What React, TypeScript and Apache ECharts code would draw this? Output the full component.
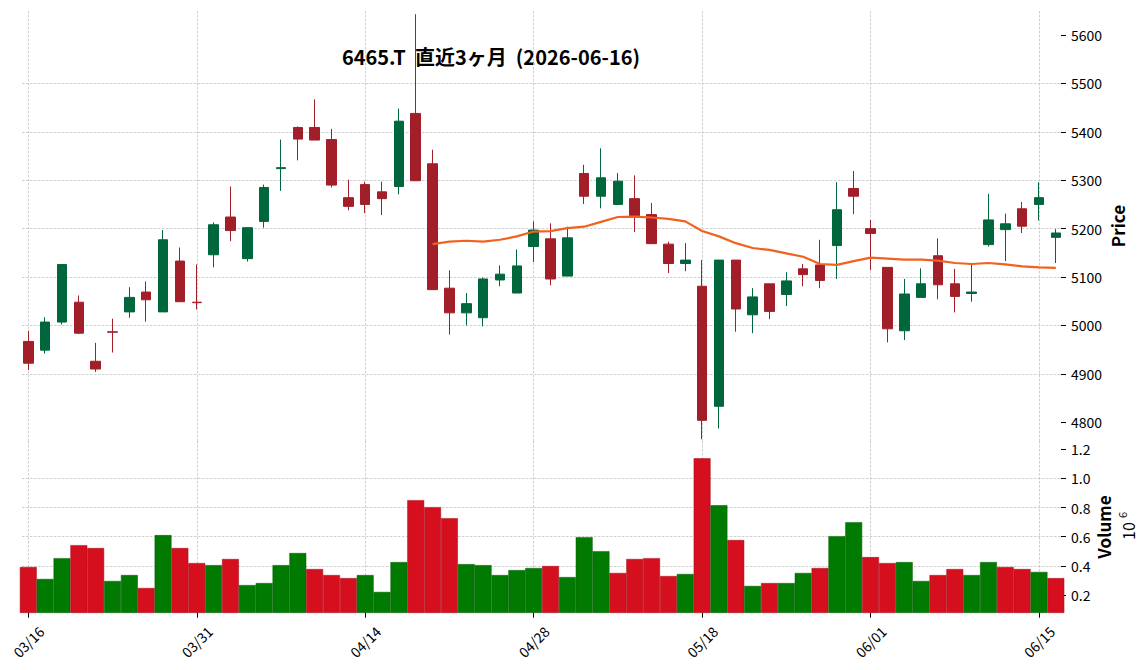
import React, { useEffect, useRef } from 'react';
import * as echarts from 'echarts';

const dates = [
  '03/16', '03/17', '03/18', '03/19', '03/23', '03/24', '03/25', '03/26', '03/27', '03/30', '03/31',
  '04/01', '04/02', '04/03', '04/06', '04/07', '04/08', '04/09', '04/10', '04/13', '04/14',
  '04/15', '04/16', '04/17', '04/20', '04/21', '04/22', '04/23', '04/24', '04/27', '04/28',
  '04/30', '05/01', '05/07', '05/08', '05/11', '05/12', '05/13', '05/14', '05/15', '05/18',
  '05/19', '05/20', '05/21', '05/22', '05/25', '05/26', '05/27', '05/28', '05/29', '06/01',
  '06/02', '06/03', '06/04', '06/05', '06/08', '06/09', '06/10', '06/11', '06/12', '06/15',
  '06/16',
];

const opens = [
  4967, 4949, 5007, 5048, 4926, 4987, 5028, 5069, 5028, 5133, 5048,
  5146, 5224, 5138, 5215, 5324, 5409, 5409, 5384, 5264, 5291,
  5276, 5287, 5438, 5334, 5077, 5026, 5016, 5094, 5067, 5163,
  5179, 5102, 5314, 5267, 5250, 5262, 5229, 5168, 5128, 5081,
  4833, 5135, 5022, 5086, 5064, 5117, 5125, 5165, 5283, 5200,
  5120, 4989, 5058, 5144, 5086, 5066, 5167, 5198, 5241, 5250,
  5182,
];
const closes = [
  4922, 5007, 5126, 4984, 4910, 4986, 5058, 5053, 5177, 5049, 5047,
  5208, 5196, 5202, 5285, 5326, 5385, 5383, 5290, 5246, 5250,
  5262, 5422, 5299, 5074, 5026, 5045, 5096, 5106, 5123, 5197,
  5096, 5181, 5267, 5305, 5298, 5227, 5169, 5128, 5135, 4804,
  5135, 5034, 5059, 5029, 5092, 5105, 5093, 5239, 5267, 5190,
  4993, 5065, 5086, 5084, 5060, 5069, 5218, 5210, 5205, 5264,
  5191,
];
const lows = [
  4908, 4942, 5002, 4982, 4904, 4944, 5016, 5008, 5028, 5049, 5033,
  5120, 5174, 5132, 5202, 5278, 5341, 5383, 5285, 5238, 5232,
  5228, 5271, 5299, 5074, 4981, 5000, 4998, 5081, 5067, 5131,
  5083, 5102, 5251, 5242, 5249, 5193, 5169, 5108, 5112, 4765,
  4787, 4987, 4984, 5013, 5040, 5081, 5077, 5096, 5230, 5114,
  4965, 4970, 5058, 5054, 5027, 5049, 5163, 5133, 5191, 5217,
  5129,
];
const highs = [
  4989, 5017, 5126, 5062, 4964, 5014, 5079, 5091, 5197, 5161, 5126,
  5213, 5287, 5202, 5291, 5384, 5411, 5467, 5406, 5301, 5297,
  5297, 5448, 5643, 5363, 5114, 5067, 5099, 5124, 5157, 5215,
  5211, 5204, 5332, 5366, 5315, 5310, 5253, 5173, 5170, 5135,
  5135, 5135, 5077, 5086, 5110, 5127, 5177, 5296, 5319, 5218,
  5120, 5096, 5118, 5180, 5117, 5127, 5272, 5231, 5255, 5296,
  5199,
];
const volumes = [
  392000, 310000, 453000, 542000, 522000, 296000, 337000, 248000, 611000, 522000, 419000,
  405000, 447000, 268000, 282000, 405000, 488000, 378000, 337000, 316000, 337000,
  221000, 426000, 851000, 803000, 727000, 412000, 405000, 337000, 371000, 385000,
  399000, 323000, 597000, 501000, 351000, 447000, 453000, 330000, 344000, 1138000,
  816000, 577000, 262000, 282000, 282000, 351000, 385000, 604000, 700000, 460000,
  419000, 426000, 296000, 337000, 378000, 337000, 426000, 392000, 378000, 358000,
  316000,
];
// 25-day moving average of close (starts at the 25th session)
const ma25 = [
  null, null, null, null, null, null, null, null, null, null, null,
  null, null, null, null, null, null, null, null, null, null,
  null, null, null, 5168, 5173, 5175, 5173, 5177, 5184, 5194,
  5195, 5201, 5204, 5214, 5224, 5225, 5223, 5220, 5215, 5195,
  5184, 5170, 5160, 5156, 5149, 5142, 5127, 5125, 5133, 5140,
  5138, 5136, 5136, 5134, 5129, 5127, 5129, 5126, 5122, 5120,
  5119,
];
const tickIdx = [0, 10, 20, 30, 40, 50, 60];
const priceTicks = [4800, 4900, 5000, 5100, 5200, 5300, 5400, 5500, 5600];
const volumeTicks = [200000, 400000, 600000, 800000, 1000000, 1200000];

const FONT = '"Noto Sans CJK JP", "Noto Sans", sans-serif';
const UP = '#00663c';
const DOWN = '#a21f2a';
const VUP = '#007a00';
const VDOWN = '#d50f1e';
const GRIDLINE = { color: '#c2c2c2', width: 0.8, type: [2.5, 1.5] as any };

export default function App() {
  const ref = useRef<HTMLDivElement>(null);
  useEffect(() => {
    document.body.style.margin = '0';
    const chart = echarts.init(ref.current!, null, { renderer: 'svg' });

    const candleData = dates.map((_, i) => [i, opens[i], closes[i], lows[i], highs[i]]);
    const volData = dates.map((_, i) => {
      const up = i === 0 ? closes[i] >= opens[i] : closes[i] >= closes[i - 1];
      return {
        value: [i, volumes[i]],
        itemStyle: { color: up ? VUP : VDOWN, borderColor: up ? '#005c00' : '#a50a16', borderWidth: 0.5 },
      };
    });
    const maData = ma25.map((v, i) => (v == null ? null : [i, v])).filter((d) => d != null);

    const xMin = -0.374;
    const xMax = 61.305;

    const option: any = {
      animation: false,
      backgroundColor: '#ffffff',
      textStyle: { fontFamily: FONT },
      grid: [
        { left: 22, right: 87, top: 11, height: 430 },
        { left: 22, right: 87, top: 441, height: 171.7 },
      ],
      xAxis: [
        {
          type: 'value', gridIndex: 0, min: xMin, max: xMax,
          axisLine: { show: false, onZero: false },
          axisTick: { show: false, customValues: tickIdx },
          axisLabel: { show: false, customValues: tickIdx },
          splitLine: { show: true, lineStyle: GRIDLINE },
        },
        {
          type: 'value', gridIndex: 1, min: xMin, max: xMax,
          axisLine: { show: false, onZero: false },
          axisTick: { show: true, length: 5, customValues: tickIdx, lineStyle: { color: '#000', width: 1 } },
          axisLabel: {
            show: true, customValues: tickIdx,
            formatter: (v: number) => dates[Math.round(v)] ?? '',
            rotate: 45, align: 'center', verticalAlign: 'middle', margin: 29,
            fontSize: 14, color: '#000', fontFamily: FONT,
          },
          splitLine: { show: true, lineStyle: GRIDLINE },
        },
      ],
      yAxis: [
        {
          type: 'value', gridIndex: 0, position: 'right', min: 4761.3, max: 5649.6,
          splitNumber: 9, minInterval: 100, maxInterval: 100,
          axisLine: { show: false, onZero: false },
          axisTick: { show: true, length: 5, customValues: priceTicks, lineStyle: { color: '#000', width: 1 } },
          axisLabel: {
            customValues: priceTicks, margin: 10, fontSize: 14, color: '#000', fontFamily: FONT,
            formatter: (v: number) => String(v),
          },
          splitLine: { show: true, showMinLine: false, showMaxLine: false, lineStyle: GRIDLINE },
        },
        {
          type: 'value', gridIndex: 1, position: 'right', min: 78500, max: 1257000,
          splitNumber: 6, minInterval: 200000, maxInterval: 200000,
          axisLine: { show: false, onZero: false },
          axisTick: { show: true, length: 5, customValues: volumeTicks, lineStyle: { color: '#000', width: 1 } },
          axisLabel: {
            customValues: volumeTicks, margin: 10, fontSize: 14, color: '#000', fontFamily: FONT,
            formatter: (v: number) => (v / 1000000).toFixed(1),
          },
          splitLine: { show: true, showMinLine: false, showMaxLine: false, lineStyle: GRIDLINE },
        },
      ],
      series: [
        {
          type: 'candlestick', xAxisIndex: 0, yAxisIndex: 0,
          data: candleData, encode: { x: 0, y: [1, 2, 3, 4] },
          barWidth: 10,
          itemStyle: { color: UP, color0: DOWN, borderColor: UP, borderColor0: DOWN, borderWidth: 1 },
        },
        {
          type: 'line', xAxisIndex: 0, yAxisIndex: 0, data: maData,
          showSymbol: false, symbol: 'none',
          lineStyle: { color: '#f2611d', width: 2.2 },
        },
        {
          type: 'bar', xAxisIndex: 1, yAxisIndex: 1, data: volData,
          barWidth: '100%',
        },
      ],
      graphic: [
        {
          type: 'text', x: 491, y: 56,
          style: {
            text: '6465.T  直近3ヶ月  (2026-06-16)', fontSize: 20, fontWeight: 'bold',
            fontFamily: FONT, fill: '#000', align: 'center', verticalAlign: 'middle',
          },
        },
        {
          type: 'text', x: 1117, y: 226, rotation: Math.PI / 2,
          style: { text: 'Price', fontSize: 17, fontWeight: 'bold', fontFamily: FONT, fill: '#000', align: 'center', verticalAlign: 'middle' },
        },
        {
          type: 'text', x: 1103.5, y: 527, rotation: Math.PI / 2,
          style: { text: 'Volume', fontSize: 17, fontWeight: 'bold', fontFamily: FONT, fill: '#000', align: 'center', verticalAlign: 'middle' },
        },
        {
          type: 'text', x: 1128, y: 531, rotation: Math.PI / 2,
          style: { text: '10', fontSize: 16, fontFamily: FONT, fill: '#000', align: 'center', verticalAlign: 'middle' },
        },
        {
          type: 'text', x: 1122, y: 515, rotation: Math.PI / 2,
          style: { text: '6', fontSize: 11, fontFamily: FONT, fill: '#000', align: 'center', verticalAlign: 'middle' },
        },
      ],
    };
    chart.setOption(option);
    return () => chart.dispose();
  }, []);
  return <div ref={ref} style={{ width: 1148, height: 670 }} />;
}
